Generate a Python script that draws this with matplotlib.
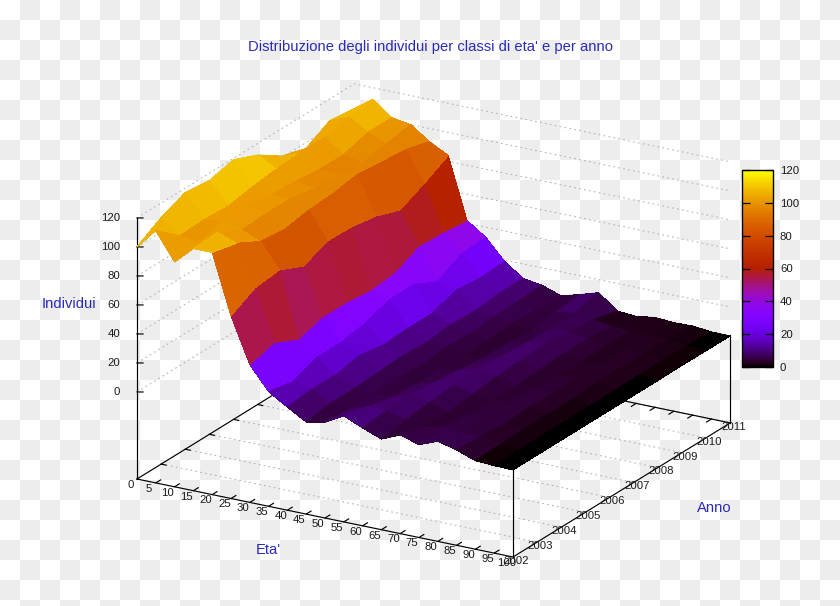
import numpy as np
import matplotlib
matplotlib.use("Agg")
import matplotlib.pyplot as plt
from matplotlib.colors import ListedColormap
from mpl_toolkits.mplot3d import proj3d

plt.rcParams['font.family'] = ['Liberation Sans', 'DejaVu Sans']

title = "Distribuzione degli individui per classi di eta' e per anno"
eta = np.arange(0, 101, 5)
anni = np.arange(2002, 2012)
z_ticks = [0, 20, 40, 60, 80, 100, 120]

# one row per year, one column per age class
y2002 = [100, 114, 95, 107, 107, 66, 35, 19, 11, 3.5, 6, 13, 7.5, 2.5, 8, 4, 9, 5.7, 1, 0.3, 0]
y2003 = [110, 100, 98, 108, 103, 75, 40, 15.5, 13, 6, 4, 9, 9, 5, 3, 6, 4, 5, 1.5, 0.5, 0]
y2004 = [117, 101, 102, 99, 94, 77, 32, 22, 12.5, 6, 5, 5, 10, 7, 3, 4, 6, 3, 2, 0.6, 0]
y2005 = [115, 100, 103, 100, 92, 69.5, 37, 22, 16, 7, 5, 4, 8, 9, 5, 3, 5, 4, 2, 0.7, 0]
y2006 = [119, 103, 100, 100, 95, 76.5, 37, 25, 13, 8, 4, 4, 6, 10, 7, 3, 4, 4, 2, 0.7, 0]
y2007 = [112, 105, 99, 97, 96, 76, 35, 31, 14, 7, 6, 4, 4, 8, 8, 4, 3, 4, 3, 0.7, 0]
y2008 = [101, 106, 97, 96, 99, 73, 37, 31, 14, 9, 5, 4, 4, 7, 9, 5, 2.5, 3, 3, 1, 0]
y2009 = [96, 106, 97, 94, 97, 67, 45, 23, 20, 8, 7, 5, 3, 6, 7, 5, 3, 2.5, 3, 1.5, 0.2]
y2010 = [105, 110, 102, 97, 95.5, 75, 44, 32, 18, 10, 7, 4, 5, 7, 5, 3, 2.5, 2, 2, 0.8, 0]
y2011 = [103, 112, 102, 100, 91, 84, 42, 33, 19, 10, 8, 3.4, 7, 11, 1, 0, 2, 1, 1.5, 0, 0]
individui = np.array([y2002, y2003, y2004, y2005, y2006, y2007, y2008, y2009, y2010, y2011])

# gnuplot default pm3d palette (rgbformulae 7,5,15)
g = np.linspace(0, 1, 256)
palette = ListedColormap(np.column_stack([np.sqrt(g), g**3, np.clip(np.sin(2*np.pi*g), 0, 1)]))

W, H = 840, 606
BLU = '#2a2ab8'
NERO = '#1a1a1a'
GRIGIO = '#b4b4b4'
BASE = -60

fig = plt.figure(figsize=(W/100, H/100), dpi=100)

# checkerboard backdrop
jj, ii = np.meshgrid(np.arange(W), np.arange(H))
sfondo = np.where((ii//20 + jj//20) % 2 == 1, 0xed/255, 1.0)
fig.figimage(np.dstack([sfondo]*3), zorder=-5)

S = 1300
ax = fig.add_axes([(W-S)/2/W, (H-S)/2/H, S/W, S/H], projection='3d',
                  proj_type='ortho', computed_zorder=False)
ax.patch.set_alpha(0)
ax.set_axis_off()
ax.view_init(elev=20.97, azim=-59.9)

X, Y = np.meshgrid(eta, anni)

griglia = dict(color=GRIGIO, lw=0.8, ls=(0, (1.5, 3)), zorder=1)
bordo = dict(color='black', lw=0.85, zorder=1)

# grid on the floor and on the back walls
for a in anni[1:]:
    ax.plot([0, 100], [a, a], [BASE, BASE], **griglia)
for z in z_ticks:
    ax.plot([0, 0, 100], [2002, 2011, 2011], [z, z, z], **griglia)

# border of the floor and corner posts
ax.plot([0, 100, 100, 0, 0], [2002, 2002, 2011, 2011, 2002], [BASE]*5, **bordo)
ax.plot([0, 0], [2002, 2002], [BASE, 120], **bordo)
for cx, cy in [(100, 2002), (100, 2011), (0, 2011)]:
    ax.plot([cx, cx], [cy, cy], [BASE, 0], **bordo)

# ticks
for e in eta[1:-1]:
    ax.plot([e, e], [2002, 2002.2], [BASE, BASE], **bordo)
    ax.plot([e, e], [2011, 2010.8], [BASE, BASE], **bordo)
for a in anni[1:-1]:
    ax.plot([0, 1.3], [a, a], [BASE, BASE], **bordo)
for z in z_ticks:
    ax.plot([0, 1.2], [2002, 2002.063], [z, z], **bordo)

# surface, with the green line of the splot just peeking out behind it
ax.plot_wireframe(X, Y, individui, color='#30c030', lw=0.6, zorder=2)
surf = ax.plot_surface(X, Y, individui, rstride=1, cstride=1, cmap=palette, vmin=0, vmax=120,
                       linewidth=0, antialiased=False, shade=False, zorder=3)

box = (434.5, 433, 279.5)
ax.set_xlim(0, 100, view_margin=0)
ax.set_ylim(2002, 2011, view_margin=0)
ax.set_zlim(BASE, 120, view_margin=0)
ax.set_box_aspect(box)

# tick labels
fs = 8.2
for e in eta:
    ax.text(e-1.8, 2002, BASE-5, str(e), ha='center', va='center', fontsize=fs, color=NERO, zorder=5)
for a in anni:
    ax.text(100.8, a, BASE-2.2, str(a), ha='center', va='center', fontsize=fs, color=NERO, zorder=5)
for z in z_ticks:
    ax.text(-3.38, 2002-0.177, z, str(z), ha='right', va='center', fontsize=fs, color=NERO, zorder=5)


def to_px(x, y, z):
    xp, yp, _ = proj3d.proj_transform(x, y, z, ax.get_proj())
    return ax.transData.transform((xp, yp))


# fit the box onto the canvas: x axis 376 px wide, origin at (137, 479)
fig.canvas.draw()
scala = 376 / (to_px(100, 2002, BASE) - to_px(0, 2002, BASE))[0]
ax.set_box_aspect(box, zoom=scala)
fig.canvas.draw()
dx, dy = np.array([137, H-479]) - to_px(0, 2002, BASE)
p = ax.get_position(original=True)
ax.set_position([p.x0 + dx/W, p.y0 + dy/H, p.width, p.height])

fig.text(431/W, 1-47/H, title, ha='center', va='center', fontsize=10.6, color=BLU)
fig.text(69/W, 1-304/H, 'Individui', ha='center', va='center', fontsize=10.6, color=BLU)
fig.text(268/W, 1-550/H, "Eta'", ha='center', va='center', fontsize=10.6, color=BLU)
fig.text(714/W, 1-508/H, 'Anno', ha='center', va='center', fontsize=10.6, color=BLU)

# colour box
cax = fig.add_axes([742/W, 1-367/H, 31/W, 197/H])
cb = fig.colorbar(surf, cax=cax)
cb.set_ticks(z_ticks)
cb.outline.set_linewidth(1)
cax.tick_params(axis='y', direction='in', left=True, right=True, length=6, width=0.9,
                labelsize=fs, labelcolor=NERO, pad=5)

fig.savefig('out.png', dpi=100)
